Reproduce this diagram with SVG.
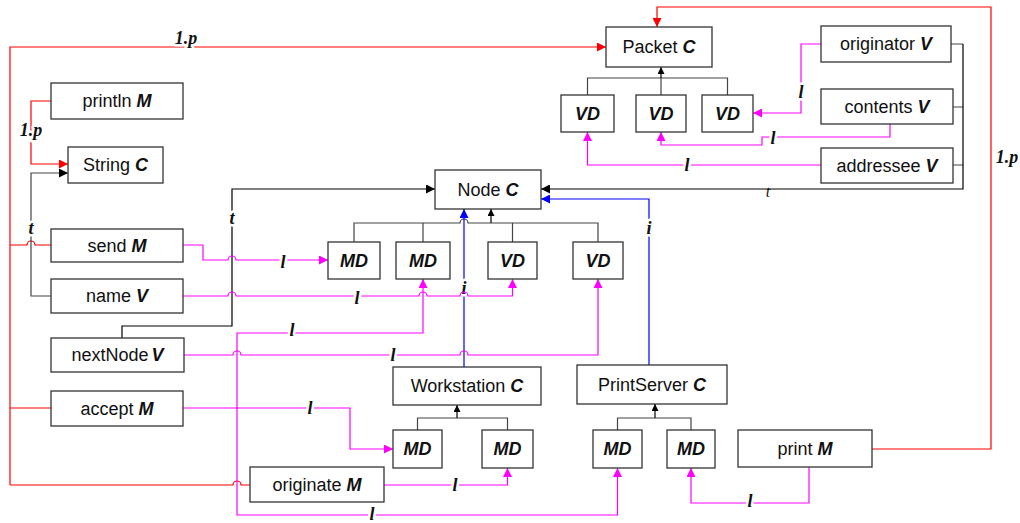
<svg xmlns="http://www.w3.org/2000/svg" width="1020" height="523" viewBox="0 0 1020 523">
<style>
.n rect{fill:#fff;stroke:#333;stroke-width:1.3}
.n text{font-family:"Liberation Sans",Arial,sans-serif;font-size:18px;fill:#111;text-anchor:middle;dominant-baseline:central}
.b{font-weight:bold;font-style:italic}
.c{fill:none;stroke-width:1.2}
.blk{stroke:#000}
.gry{stroke:#444}
.red{stroke:#f00}
.mag{stroke:#f0f}
.blu{stroke:#00f}
.lbl{font-family:"Liberation Serif","Times New Roman",serif;font-weight:bold;font-style:italic;font-size:18px;fill:#111;text-anchor:middle;dominant-baseline:central;stroke:#fff;stroke-width:5;stroke-linejoin:round;paint-order:stroke}
.lbl2{font-family:"Liberation Serif","Times New Roman",serif;font-style:italic;font-size:16px;fill:#111;text-anchor:middle;dominant-baseline:central}
</style>
<defs>
<marker id="ab" viewBox="0 0 10 10" refX="10" refY="5" markerWidth="11" markerHeight="9" orient="auto" markerUnits="userSpaceOnUse"><path d="M0,0 L10,5 L0,10 z" fill="#000"/></marker>
<marker id="ar" viewBox="0 0 10 10" refX="10" refY="5" markerWidth="11" markerHeight="9" orient="auto" markerUnits="userSpaceOnUse"><path d="M0,0 L10,5 L0,10 z" fill="#f00"/></marker>
<marker id="am" viewBox="0 0 10 10" refX="10" refY="5" markerWidth="11" markerHeight="9" orient="auto" markerUnits="userSpaceOnUse"><path d="M0,0 L10,5 L0,10 z" fill="#f0f"/></marker>
<marker id="au" viewBox="0 0 10 10" refX="10" refY="5" markerWidth="11" markerHeight="9" orient="auto" markerUnits="userSpaceOnUse"><path d="M0,0 L10,5 L0,10 z" fill="#00f"/></marker>
<marker id="ai" viewBox="0 0 10 10" refX="10" refY="5" markerWidth="7" markerHeight="7" orient="auto" markerUnits="userSpaceOnUse"><path d="M0,0 L10,5 L0,10 z" fill="#000"/></marker>
</defs>
<rect width="1020" height="523" fill="#fff"/>

<g id="connectors">
<!-- inheritance -->
<path class="c gry" d="M587.5,95 V78 H727.5 V95 M661,95 V78"/>
<path class="c blk" d="M661,78 V67" marker-end="url(#ai)"/>
<path class="c gry" d="M354,242 V223 H460 A4,4 0 0 1 468,223 H598 V242 M423,242 V223 M512.5,242 V223"/>
<path class="c blk" d="M491,223 V209" marker-end="url(#ai)"/>
<path class="c gry" d="M417.5,430 V418 H507.5 V430"/>
<path class="c blk" d="M457,418 V405" marker-end="url(#ai)"/>
<path class="c gry" d="M617.5,430 V418 H691 V430"/>
<path class="c blk" d="M655,418 V404" marker-end="url(#ai)"/>

<!-- red 1.p -->
<path class="c red" d="M10,485 V47 H606" marker-end="url(#ar)"/>
<path class="c red" d="M10,245 H27 A4,4 0 0 1 35,245 H51"/>
<path class="c red" d="M10,408 H51"/>
<path class="c red" d="M10,485 H233 A4,4 0 0 1 241,485 H250"/>
<path class="c red" d="M51,101 H31 V164 H68" marker-end="url(#ar)"/>
<path class="c red" d="M872,449 H991 V7 H657 V27" marker-end="url(#ar)"/>
<text class="lbl" x="186" y="38">1.p</text>
<text class="lbl" x="31" y="130">1.p</text>
<text class="lbl" x="1007" y="157">1.p</text>

<!-- black t -->
<path class="c gry" d="M51,296 H31 V173 H68" marker-end="url(#ab)"/>
<path class="c blk" d="M122,338 V326 H232 V189 H435" marker-end="url(#ab)"/>
<path class="c gry" d="M951,44 H963 M953,107 H963 M953,165 H963"/>
<path class="c blk" d="M963,44 V189 H541" marker-end="url(#ab)"/>
<text class="lbl" x="31" y="228">t</text>
<text class="lbl" x="232" y="218">t</text>
<text class="lbl2" x="768" y="191">t</text>

<!-- blue i -->
<path class="c blu" d="M464,367 V209" marker-end="url(#au)"/>
<path class="c blu" d="M649,365 V199 H541" marker-end="url(#au)"/>
<text class="lbl" x="464" y="288">i</text>
<text class="lbl" x="649" y="228">i</text>

<!-- magenta l -->
<path class="c mag" d="M821,44 H801 V113 H753" marker-end="url(#am)"/>
<text class="lbl" x="801" y="92">l</text>
<path class="c mag" d="M890,124 V137 H762 V145 H661 V132" marker-end="url(#am)"/>
<text class="lbl" x="773" y="138">l</text>
<path class="c mag" d="M821,165 H587.5 V132" marker-end="url(#am)"/>
<text class="lbl" x="687" y="165">l</text>
<path class="c mag" d="M183,245 H203 V260 H228 A4,4 0 0 1 236,260 H328" marker-end="url(#am)"/>
<text class="lbl" x="283" y="262">l</text>
<path class="c mag" d="M183,296 H228 A4,4 0 0 1 236,296 H419 A4,4 0 0 1 427,296 H460 A4,4 0 0 1 468,296 H512.5 V279" marker-end="url(#am)"/>
<text class="lbl" x="357" y="298">l</text>
<path class="c mag" d="M184,355 H233 A4,4 0 0 1 241,355 H460 A4,4 0 0 1 468,355 H598 V279" marker-end="url(#am)"/>
<text class="lbl" x="393" y="355">l</text>
<path class="c mag" d="M183,408 H350 V449 H393" marker-end="url(#am)"/>
<text class="lbl" x="310" y="408">l</text>
<path class="c mag" d="M237,408 V333 H423 V279" marker-end="url(#am)"/>
<text class="lbl" x="292" y="330">l</text>
<path class="c mag" d="M237,408 V515 H617.5 V468" marker-end="url(#am)"/>
<text class="lbl" x="372" y="514">l</text>
<path class="c mag" d="M384,485 H507.5 V468" marker-end="url(#am)"/>
<text class="lbl" x="455" y="485">l</text>
<path class="c mag" d="M809,467 V503 H691 V468" marker-end="url(#am)"/>
<text class="lbl" x="750" y="501">l</text>
</g>

<g id="packet" class="n"><rect x="606" y="27" width="106" height="40"/><text x="659" y="47">Packet <tspan class="b">C</tspan></text></g>
<g id="originator" class="n"><rect x="821" y="26" width="130" height="36"/><text x="886" y="44">originator <tspan class="b">V</tspan></text></g>
<g id="contents" class="n"><rect x="821" y="89" width="132" height="35"/><text x="887" y="106.5">contents <tspan class="b">V</tspan></text></g>
<g id="addressee" class="n"><rect x="821" y="148" width="132" height="35"/><text x="887" y="165.5">addressee <tspan class="b">V</tspan></text></g>
<g id="pvd1" class="n"><rect x="561" y="95" width="53" height="37"/><text x="587.5" y="113.5" class="b">VD</text></g>
<g id="pvd2" class="n"><rect x="636" y="95" width="50" height="37"/><text x="661" y="113.5" class="b">VD</text></g>
<g id="pvd3" class="n"><rect x="702" y="95" width="51" height="37"/><text x="727.5" y="113.5" class="b">VD</text></g>
<g id="println" class="n"><rect x="51" y="83" width="132" height="36"/><text x="117" y="101">println <tspan class="b">M</tspan></text></g>
<g id="string" class="n"><rect x="68" y="147" width="95" height="36"/><text x="115.5" y="165">String <tspan class="b">C</tspan></text></g>
<g id="node" class="n"><rect x="435" y="170" width="106" height="39"/><text x="488" y="189.5">Node <tspan class="b">C</tspan></text></g>
<g id="send" class="n"><rect x="51" y="229" width="132" height="33"/><text x="117" y="245.5">send <tspan class="b">M</tspan></text></g>
<g id="name" class="n"><rect x="51" y="279" width="132" height="34"/><text x="117" y="296">name <tspan class="b">V</tspan></text></g>
<g id="nextNode" class="n"><rect x="51" y="338" width="133" height="34"/><text x="117.5" y="355">nextNode<tspan class="b" dx="3">V</tspan></text></g>
<g id="accept" class="n"><rect x="51" y="391" width="132" height="35"/><text x="117" y="408.5">accept <tspan class="b">M</tspan></text></g>
<g id="originate" class="n"><rect x="250" y="467" width="134" height="35"/><text x="317" y="484.5">originate <tspan class="b">M</tspan></text></g>
<g id="nmd1" class="n"><rect x="328" y="242" width="52" height="37"/><text x="354" y="260.5" class="b">MD</text></g>
<g id="nmd2" class="n"><rect x="396" y="242" width="54" height="37"/><text x="423" y="260.5" class="b">MD</text></g>
<g id="nvd1" class="n"><rect x="488" y="242" width="49" height="37"/><text x="512.5" y="260.5" class="b">VD</text></g>
<g id="nvd2" class="n"><rect x="573" y="242" width="50" height="37"/><text x="598" y="260.5" class="b">VD</text></g>
<g id="workstation" class="n"><rect x="393" y="367" width="148" height="38"/><text x="467" y="386">Workstation <tspan class="b">C</tspan></text></g>
<g id="printserver" class="n"><rect x="577" y="365" width="150" height="39"/><text x="652" y="384.5">PrintServer <tspan class="b">C</tspan></text></g>
<g id="wmd1" class="n"><rect x="393" y="430" width="49" height="38"/><text x="417.5" y="449" class="b">MD</text></g>
<g id="wmd2" class="n"><rect x="482" y="430" width="51" height="38"/><text x="507.5" y="449" class="b">MD</text></g>
<g id="psmd1" class="n"><rect x="593" y="430" width="49" height="38"/><text x="617.5" y="449" class="b">MD</text></g>
<g id="psmd2" class="n"><rect x="667" y="430" width="48" height="38"/><text x="691" y="449" class="b">MD</text></g>
<g id="print" class="n"><rect x="738" y="430" width="134" height="37"/><text x="805" y="448.5">print <tspan class="b">M</tspan></text></g>
</svg>
